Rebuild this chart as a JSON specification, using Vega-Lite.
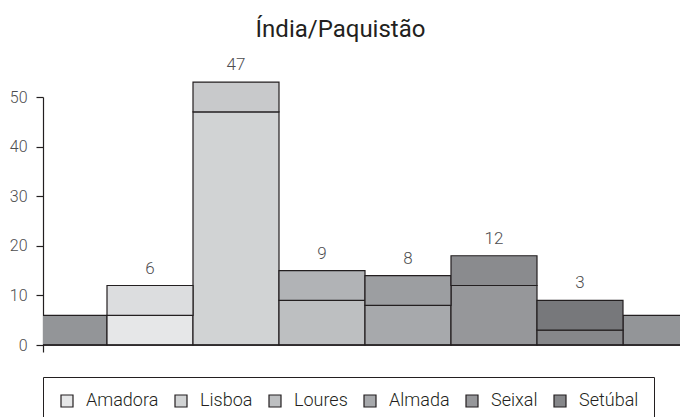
{
  "$schema": "https://vega.github.io/schema/vega-lite/v6.json",
  "width": 637,
  "height": 255,
  "autosize": {"type": "none"},
  "padding": {"left": 43, "top": 97, "right": 0, "bottom": 65},
  "title": {"text": "Índia/Paquistão", "font": "Roboto", "fontSize": 24, "fontWeight": 400, "color": "#231f20", "anchor": "middle", "frame": "group", "dx": -21, "offset": 14},
  "datasets": {
    "base": [
      {"pos": "Amadora", "loc": "Amadora", "lo": 0, "v": 6, "tot": 12},
      {"pos": "Lisboa", "loc": "Lisboa", "lo": 0, "v": 47, "tot": 53},
      {"pos": "Loures", "loc": "Loures", "lo": 0, "v": 9, "tot": 15},
      {"pos": "Almada", "loc": "Almada", "lo": 0, "v": 8, "tot": 14},
      {"pos": "Seixal", "loc": "Seixal", "lo": 0, "v": 12, "tot": 18},
      {"pos": "Setúbal", "loc": "Setúbal", "lo": 0, "v": 3, "tot": 9}
    ],
    "tops": [
      {"pos": "Amadora", "seg": "Amadora+", "lo": 6, "hi": 12},
      {"pos": "Lisboa", "seg": "Lisboa+", "lo": 47, "hi": 53},
      {"pos": "Loures", "seg": "Loures+", "lo": 9, "hi": 15},
      {"pos": "Almada", "seg": "Almada+", "lo": 8, "hi": 14},
      {"pos": "Seixal", "seg": "Seixal+", "lo": 12, "hi": 18},
      {"pos": "Setúbal", "seg": "Setúbal+", "lo": 3, "hi": 9}
    ],
    "edges": [
      {"pos": "L", "lo": 0, "hi": 6},
      {"pos": "R", "lo": 0, "hi": 6}
    ],
    "zero": [{"z": 0}]
  },
  "layer": [
    {
      "data": {"name": "edges"},
      "mark": {"type": "bar", "clip": true, "fill": "#939598", "stroke": "#231f20", "strokeWidth": 1.2},
      "encoding": {
        "x": {"field": "pos", "type": "nominal", "axis": null,
          "scale": {"domain": ["L", "Amadora", "Lisboa", "Loures", "Almada", "Seixal", "Setúbal", "R"], "range": [-22, 666], "paddingInner": 0, "paddingOuter": 0}},
        "y": {"field": "lo", "type": "quantitative", "scale": {"domain": [-1.4, 50], "nice": false, "zero": false},
          "axis": {"values": [0, 10, 20, 30, 40, 50], "title": null, "grid": false, "tickSize": 7, "tickColor": "#231f20", "tickWidth": 1.2, "domainColor": "#231f20", "domainWidth": 1.2, "labelFont": "Roboto", "labelFontSize": 16, "labelFontWeight": 300, "labelColor": "#4d4d4f", "labelPadding": 9}},
        "y2": {"field": "hi"}
      }
    },
    {
      "data": {"name": "base"},
      "mark": {"type": "bar", "clip": false, "stroke": "#231f20", "strokeWidth": 1.2},
      "encoding": {
        "x": {"field": "pos", "type": "nominal"},
        "y": {"field": "lo", "type": "quantitative"},
        "y2": {"field": "v"},
        "fill": {"field": "loc", "type": "nominal",
          "scale": {"domain": ["Amadora", "Lisboa", "Loures", "Almada", "Seixal", "Setúbal"], "range": ["#e6e7e8", "#d1d3d4", "#bdbfc1", "#a7a9ac", "#96979a", "#86878a"]},
          "legend": {"title": null, "orient": "none", "legendX": 0, "legendY": 280, "direction": "horizontal", "columns": 6, "symbolType": "square", "symbolSize": 144, "symbolStrokeColor": "#231f20", "symbolStrokeWidth": 1.2, "labelFont": "Roboto", "labelFontSize": 18, "labelFontWeight": 300, "labelColor": "#231f20", "labelOffset": 10, "columnPadding": 13, "padding": 15, "strokeColor": "#231f20"}}
      }
    },
    {
      "data": {"name": "tops"},
      "mark": {"type": "bar", "clip": false, "stroke": "#231f20", "strokeWidth": 1.2},
      "encoding": {
        "x": {"field": "pos", "type": "nominal"},
        "y": {"field": "lo", "type": "quantitative"},
        "y2": {"field": "hi"},
        "fill": {"field": "seg", "type": "nominal",
          "scale": {"domain": ["Amadora+", "Lisboa+", "Loures+", "Almada+", "Seixal+", "Setúbal+"], "range": ["#dcdddf", "#c8c9cb", "#b1b3b6", "#9c9ea1", "#8a8b8e", "#77787b"]},
          "legend": null}
      }
    },
    {
      "data": {"name": "base"},
      "mark": {"type": "text", "font": "Roboto", "fontSize": 17, "fontWeight": 300, "color": "#4d4d4f", "baseline": "alphabetic", "dy": -12},
      "encoding": {
        "x": {"field": "pos", "type": "nominal"},
        "y": {"field": "tot", "type": "quantitative"},
        "text": {"field": "v", "type": "quantitative"}
      }
    },
    {
      "data": {"name": "zero"},
      "mark": {"type": "rule", "color": "#231f20", "strokeWidth": 1.5},
      "encoding": {"y": {"field": "z", "type": "quantitative"}}
    }
  ],
  "resolve": {"scale": {"fill": "independent"}},
  "config": {"view": {"stroke": null}}
}
